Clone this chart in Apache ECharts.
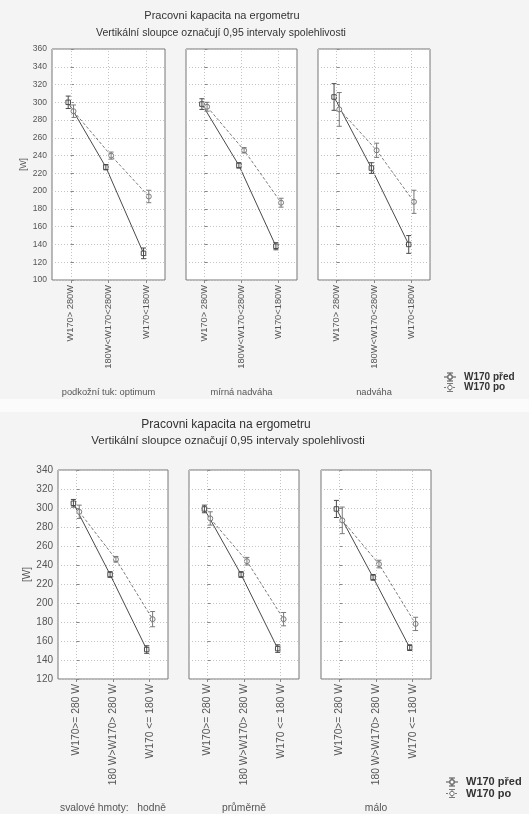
<!DOCTYPE html>
<html><head><meta charset="utf-8">
<script src="https://cdn.jsdelivr.net/npm/echarts@6/dist/echarts.min.js"></script>
<style>html,body{margin:0;padding:0;background:#f4f4f4}#c{width:529px;height:814px}</style>
</head><body><div id="c"></div><script>
// ---------- DATA ----------
const titleLine1 = 'Pracovni kapacita na ergometru';
const titleLine2 = 'Vertikální sloupce označují 0,95 intervaly spolehlivosti';
const seriesNames = ['W170 před', 'W170 po'];
const yLabelName = '[W]';

const topCategories = ['W170> 280W', '180W<W170<280W', 'W170<180W'];
const topGroups = ['podkožní tuk: optimum', 'mírná nadváha', 'nadváha'];
const topPred   = [[300, 227, 130], [298, 229, 138], [306, 226, 140]];
const topPredCI = [[7, 3, 6], [6, 3, 4], [15, 6, 10]];
const topPo     = [[290, 240, 194], [295, 246, 187], [292, 246, 188]];
const topPoCI   = [[7, 4, 7], [5, 3, 5], [19, 8, 13]];
const topYMin = 100, topYMax = 360, topYStep = 20;

const botCategories = ['W170>= 280 W', '180 W>W170> 280 W', 'W170 <= 180 W'];
const botGroups = ['svalové hmoty:   hodně', 'průměrně', 'málo'];
const botPred   = [[305, 230, 151], [299, 230, 152], [299, 227, 153]];
const botPredCI = [[4, 3, 4], [4, 3, 4], [9, 3, 3]];
const botPo     = [[296, 246, 183], [289, 244, 183], [287, 241, 178]];
const botPoCI   = [[7, 3, 8], [7, 4, 7], [14, 4, 7]];
const botYMin = 120, botYMax = 340, botYStep = 20;

// ---------- LAYOUT ----------
const panels = [
  {left: 52, top: 49, width: 113, height: 231, cats: topCategories, group: topGroups[0], pred: topPred[0], predCI: topPredCI[0], po: topPo[0], poCI: topPoCI[0], min: topYMin, max: topYMax, step: topYStep, showY: true, fs: 9.3, yfs: 8.5, off: 0.07, nameGap: 108},
  {left: 186, top: 49, width: 111, height: 231, cats: topCategories, group: topGroups[1], pred: topPred[1], predCI: topPredCI[1], po: topPo[1], poCI: topPoCI[1], min: topYMin, max: topYMax, step: topYStep, showY: false, fs: 9.3, yfs: 8.5, off: 0.07, nameGap: 108},
  {left: 318, top: 49, width: 112, height: 231, cats: topCategories, group: topGroups[2], pred: topPred[2], predCI: topPredCI[2], po: topPo[2], poCI: topPoCI[2], min: topYMin, max: topYMax, step: topYStep, showY: false, fs: 9.3, yfs: 8.5, off: 0.07, nameGap: 108},
  {left: 58, top: 470, width: 110, height: 213, cats: botCategories, group: botGroups[0], pred: botPred[0], predCI: botPredCI[0], po: botPo[0], poCI: botPoCI[0], min: botYMin, max: botYMax, step: botYStep, showY: true, fs: 10.3, yfs: 10, off: 0.08, nameGap: 124},
  {left: 189, top: 470, width: 110, height: 213, cats: botCategories, group: botGroups[1], pred: botPred[1], predCI: botPredCI[1], po: botPo[1], poCI: botPoCI[1], min: botYMin, max: botYMax, step: botYStep, showY: false, fs: 10.3, yfs: 10, off: 0.08, nameGap: 124},
  {left: 321, top: 470, width: 110, height: 213, cats: botCategories, group: botGroups[2], pred: botPred[2], predCI: botPredCI[2], po: botPo[2], poCI: botPoCI[2], min: botYMin, max: botYMax, step: botYStep, showY: false, fs: 10.3, yfs: 10, off: 0.08, nameGap: 124}
];

const FONT = '"Liberation Sans", Arial, sans-serif';
const C_PRED = '#4a4a4a', C_PO = '#7a7a7a', C_TXT = '#555';

function errorBars(xi, yi, vals, ci, off, color) {
  return {
    type: 'custom', xAxisIndex: xi, yAxisIndex: yi, silent: true, z: 4,
    data: vals.map((v, i) => [i + off, v - ci[i], v + ci[i]]),
    renderItem(params, api) {
      const x = api.value(0);
      const lo = api.coord([x, api.value(1)]);
      const hi = api.coord([x, api.value(2)]);
      const cap = 2.5, st = {stroke: color, lineWidth: 1};
      return {type: 'group', children: [
        {type: 'line', shape: {x1: lo[0], y1: lo[1], x2: hi[0], y2: hi[1]}, style: st},
        {type: 'line', shape: {x1: lo[0] - cap, y1: lo[1], x2: lo[0] + cap, y2: lo[1]}, style: st},
        {type: 'line', shape: {x1: hi[0] - cap, y1: hi[1], x2: hi[0] + cap, y2: hi[1]}, style: st}
      ]};
    }
  };
}

const grid = [], xAxis = [], yAxis = [], series = [];
panels.forEach((p, g) => {
  grid.push({left: p.left, top: p.top, width: p.width, height: p.height, show: true,
    backgroundColor: '#fff', borderColor: '#777', borderWidth: 1});
  xAxis.push({type: 'category', gridIndex: g, data: p.cats, boundaryGap: true,
    axisLine: {show: false},
    axisTick: {show: true, alignWithLabel: true, length: 3, lineStyle: {color: '#888'}},
    axisLabel: {rotate: 90, fontSize: p.fs, color: C_TXT, fontFamily: FONT, margin: 5, interval: 0},
    name: p.group, nameLocation: 'middle', nameGap: p.nameGap,
    nameTextStyle: {fontSize: p.fs, color: C_TXT, fontFamily: FONT},
    splitLine: {show: false}});
  xAxis.push({type: 'value', gridIndex: g, min: -0.5, max: 2.5, show: false, splitLine: {show: false}});
  yAxis.push({type: 'value', gridIndex: g, min: p.min, max: p.max, interval: p.step,
    axisLine: {show: false},
    axisTick: {show: true, inside: true, length: 3, lineStyle: {color: '#888'}},
    axisLabel: {show: p.showY, fontSize: p.yfs, color: C_TXT, fontFamily: FONT, margin: 5},
    splitLine: {show: true, lineStyle: {color: '#c4c4c4', type: [1, 2], width: 1}},
    name: p.showY ? yLabelName : '', nameLocation: 'middle', nameGap: p.showY ? 24 : 0, nameRotate: 90,
    nameTextStyle: {fontSize: p.yfs, color: C_TXT, fontFamily: FONT}});
  const xi = 2 * g + 1;
  series.push({type: 'line', xAxisIndex: xi, yAxisIndex: g, data: [], silent: true,
    markLine: {silent: true, symbol: 'none', label: {show: false},
      lineStyle: {color: '#c4c4c4', type: [1, 2], width: 1},
      data: p.cats.map((c, i) => ({xAxis: i}))}});
  series.push({type: 'line', name: seriesNames[0], xAxisIndex: xi, yAxisIndex: g, z: 3,
    data: p.pred.map((v, i) => [i - p.off, v]),
    symbol: 'rect', symbolSize: 4.5, showSymbol: true,
    itemStyle: {color: '#fff', borderColor: C_PRED, borderWidth: 1},
    lineStyle: {color: C_PRED, width: 1}});
  series.push({type: 'line', name: seriesNames[1], xAxisIndex: xi, yAxisIndex: g, z: 3,
    data: p.po.map((v, i) => [i + p.off, v]),
    symbol: 'circle', symbolSize: 5, showSymbol: true,
    itemStyle: {color: '#fff', borderColor: C_PO, borderWidth: 1},
    lineStyle: {color: C_PO, width: 1, type: [3, 2]}});
  series.push(errorBars(xi, g, p.pred, p.predCI, -p.off, C_PRED));
  series.push(errorBars(xi, g, p.po, p.poCI, p.off, C_PO));
});

function legendGraphic(x, y, fs) {
  const items = [];
  seriesNames.forEach((n, k) => {
    const yy = y + k * (fs + 0.5);
    const col = k === 0 ? C_PRED : C_PO;
    items.push({type: 'line', shape: {x1: x + 5, y1: yy - 4, x2: x + 5, y2: yy + 4}, style: {stroke: col, lineWidth: 1}});
    items.push({type: 'line', shape: {x1: x + 2, y1: yy - 4, x2: x + 8, y2: yy - 4}, style: {stroke: col, lineWidth: 1}});
    items.push({type: 'line', shape: {x1: x + 2, y1: yy + 4, x2: x + 8, y2: yy + 4}, style: {stroke: col, lineWidth: 1}});
    items.push({type: 'line', shape: {x1: x - 1, y1: yy, x2: x + 11, y2: yy}, style: {stroke: col, lineWidth: 1, lineDash: k ? [2, 1] : null}});
    items.push(k === 0
      ? {type: 'rect', shape: {x: x + 3, y: yy - 2, width: 4, height: 4}, style: {fill: '#fff', stroke: col}}
      : {type: 'circle', shape: {cx: x + 5, cy: yy, r: 2.2}, style: {fill: '#fff', stroke: col}});
    items.push({type: 'text', x: x + 19, y: yy, style: {text: n, fill: '#333', font: 'bold ' + fs + 'px ' + FONT, textVerticalAlign: 'middle'}});
  });
  return items;
}

const graphic = [
  {type: 'rect', shape: {x: 0, y: 399, width: 529, height: 13}, style: {fill: '#fbfbfb'}, silent: true, z: -1},
  {type: 'text', x: 222, y: 16, style: {text: titleLine1, font: '11px ' + FONT, fill: '#333', textAlign: 'center', textVerticalAlign: 'middle'}},
  {type: 'text', x: 221, y: 33, style: {text: titleLine2, font: '10.5px ' + FONT, fill: '#333', textAlign: 'center', textVerticalAlign: 'middle'}},
  {type: 'text', x: 226, y: 425, style: {text: titleLine1, font: '12px ' + FONT, fill: '#333', textAlign: 'center', textVerticalAlign: 'middle'}},
  {type: 'text', x: 228, y: 441, style: {text: titleLine2, font: '11.5px ' + FONT, fill: '#333', textAlign: 'center', textVerticalAlign: 'middle'}},
  ...legendGraphic(445, 377, 10),
  ...legendGraphic(447, 782, 11)
];

const chart = echarts.init(document.getElementById('c'), null, {renderer: 'canvas'});
chart.setOption({
  backgroundColor: '#f4f4f4', animation: false,
  grid, xAxis, yAxis, series, graphic
});
</script></body></html>
